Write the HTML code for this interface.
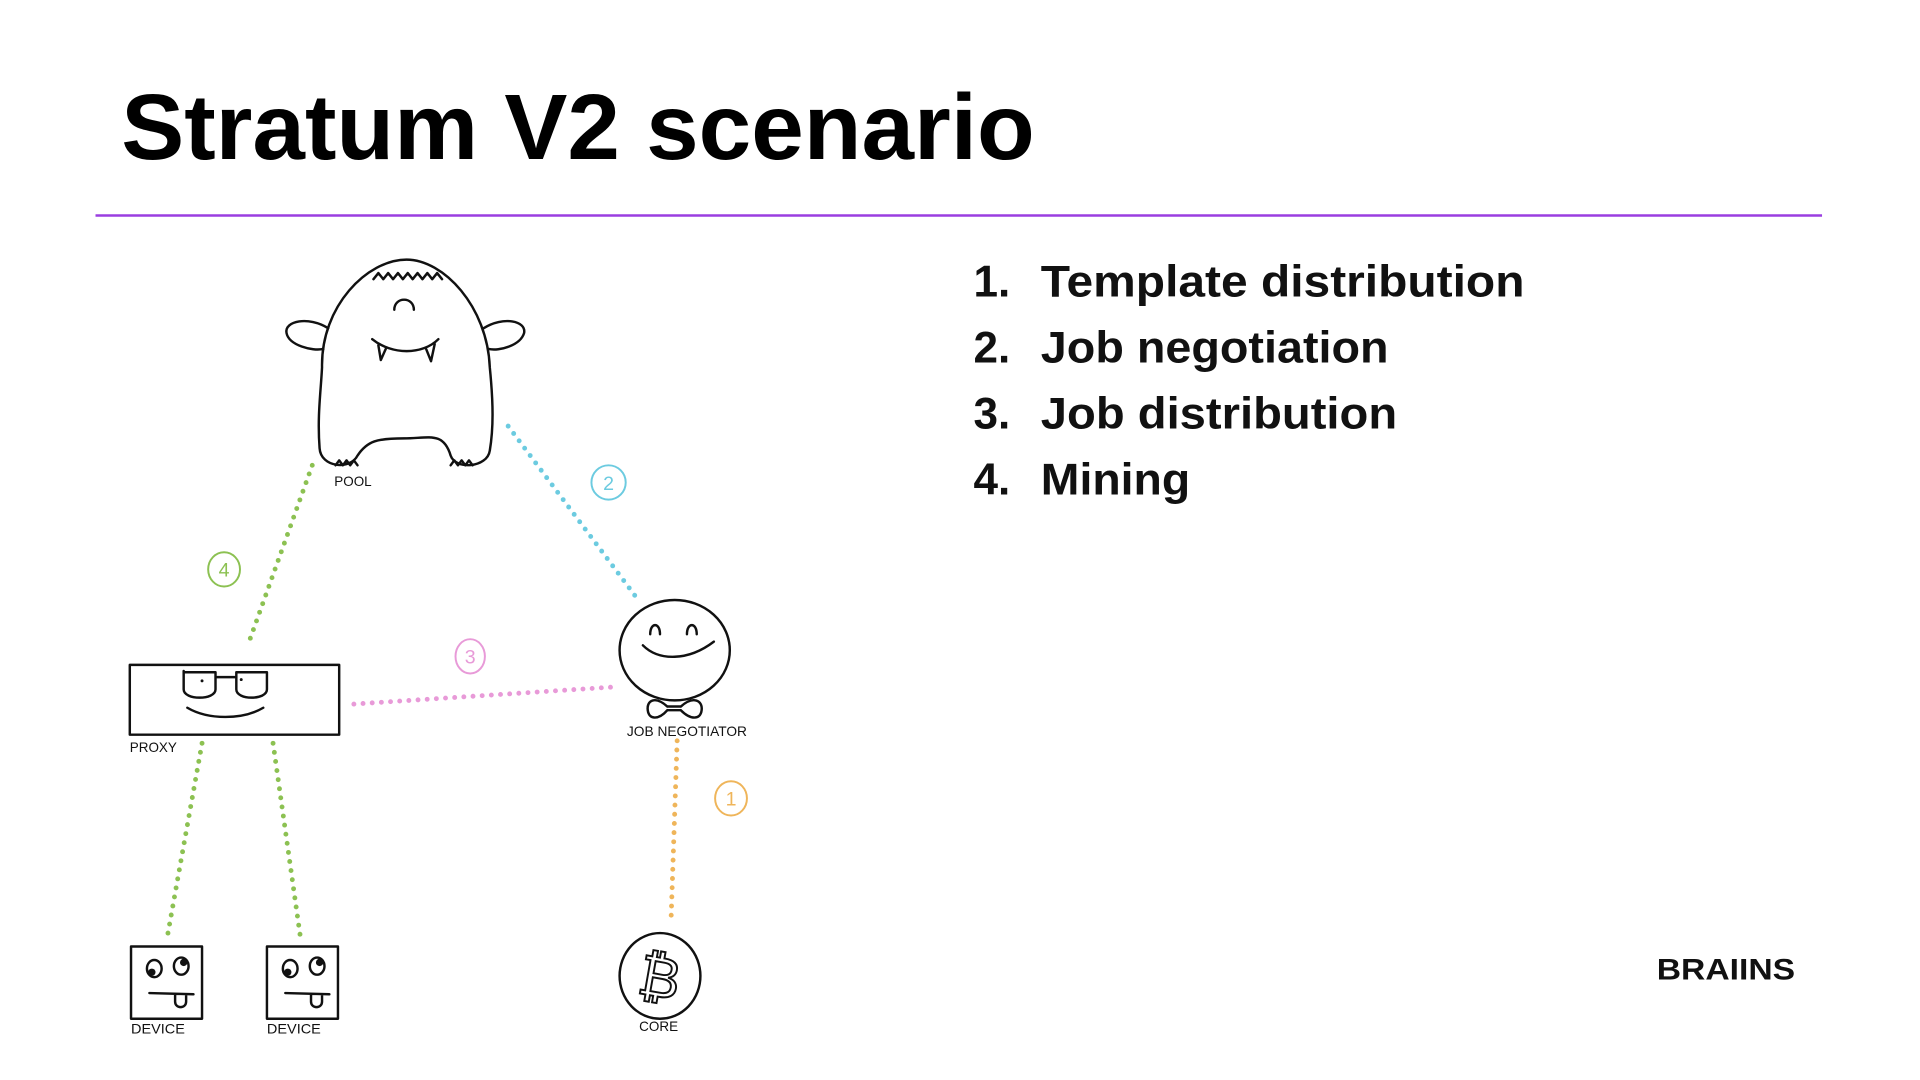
<!DOCTYPE html>
<html><head><meta charset="utf-8"><style>
html,body{margin:0;padding:0;background:#fff;}
svg{display:block;}
</style></head><body>
<svg width="1920" height="1080" viewBox="0 0 1568 882" xmlns="http://www.w3.org/2000/svg" font-family="Liberation Sans, sans-serif">
<rect width="1568" height="882" fill="#fff"/>
<text x="99" y="130" font-size="76" font-weight="bold" fill="#000" textLength="746" lengthAdjust="spacingAndGlyphs">Stratum V2 scenario</text>
<line x1="78" y1="176" x2="1488" y2="176" stroke="#9a3ee0" stroke-width="2"/>
<g font-size="36" font-weight="bold" fill="#111">
<text x="795" y="242">1.</text><text x="850" y="242" textLength="395" lengthAdjust="spacingAndGlyphs">Template distribution</text>
<text x="795" y="296">2.</text><text x="850" y="296" textLength="284" lengthAdjust="spacingAndGlyphs">Job negotiation</text>
<text x="795" y="350">3.</text><text x="850" y="350" textLength="291" lengthAdjust="spacingAndGlyphs">Job distribution</text>
<text x="795" y="404">4.</text><text x="850" y="404" textLength="122" lengthAdjust="spacingAndGlyphs">Mining</text>
</g>
<text x="1353" y="800" font-size="24" font-weight="bold" fill="#111" textLength="113" lengthAdjust="spacingAndGlyphs">BRAIINS</text>

<g fill="none" stroke-linecap="round" stroke-width="4" stroke-dasharray="0 7.5">
<line x1="255" y1="380" x2="202" y2="528" stroke="#8cc152"/>
<line x1="415" y1="348" x2="519" y2="487" stroke="#6ccbe0"/>
<line x1="289" y1="575" x2="502" y2="561" stroke="#e89ad8"/>
<line x1="553" y1="605" x2="548" y2="752" stroke="#efb55a"/>
<line x1="165" y1="607" x2="137" y2="763" stroke="#8cc152"/>
<line x1="223" y1="607" x2="245" y2="763" stroke="#8cc152"/>
</g>
<g fill="none" stroke-width="1.6">
<ellipse cx="183" cy="465" rx="13" ry="14" stroke="#8cc152"/>
<ellipse cx="497" cy="394" rx="14" ry="14" stroke="#6ccbe0"/>
<ellipse cx="384" cy="536" rx="12" ry="14" stroke="#e89ad8"/>
<ellipse cx="597" cy="652" rx="13" ry="14" stroke="#efb55a"/>
</g>
<g font-size="16" text-anchor="middle">
<text x="183" y="471" fill="#8cc152">4</text>
<text x="497" y="400" fill="#6ccbe0">2</text>
<text x="384" y="542" fill="#e89ad8">3</text>
<text x="597" y="658" fill="#efb55a">1</text>
</g>

<g fill="none" stroke="#111" stroke-width="2" stroke-linecap="round" stroke-linejoin="round">
<path d="M263,300 C262,250 300,212 332,212 C362,212 398,250 400,300 C403,330 403,350 400,368 C398,382 372,384 368,372 C362,352 350,358 330,358 C308,358 300,360 292,372 C286,384 262,382 261,366 C259,340 262,320 263,300 Z" fill="#fff"/>
<path d="M268,268 C252,258 232,262 234,272 C236,282 255,287 264,285"/>
<path d="M395,268 C411,258 430,262 428,272 C425,282 408,287 399,285"/>
<path d="M305,228 l4,-5 l4,5 l4,-5 l4,5 l4,-5 l4,5 l4,-5 l4,5 l4,-5 l4,5 l4,-5 l4,5 l4,-5 l4,5"/>
<path d="M322,253 C322,242 338,242 338,253"/>
<path d="M304,277 C320,290 345,290 358,277"/>
<path d="M309,282 L311,294 L315,285"/>
<path d="M348,285 L352,295 L355,281"/>
<path d="M274,380 l3,-4 l3,4 l3,-4 l3,4 l3,-4 l3,4"/>
<path d="M368,380 l3,-4 l3,4 l3,-4 l3,4 l3,-4 l3,4"/>
<rect x="106" y="543" width="171" height="57"/>
<path d="M150,548 L150,563 C150,572 176,572 176,563 L176,549 L150,549 M176,553 L193,553 M193,549 L218,549 L218,563 C218,572 193,572 193,563 Z"/>
<path d="M153,578 C170,588 198,588 215,578"/>
<ellipse cx="551" cy="531" rx="45" ry="41" fill="#fff"/>
<path d="M531,518 C531,508 539,508 539,518 M561,518 C561,508 569,508 569,518"/>
<path d="M525,527 C538,540 562,540 583,524"/>
<path d="M545,577 C535,568 528,572 529,580 C530,588 538,588 545,580 M556,577 C566,568 574,572 573,580 C572,588 564,588 556,580 M545,577 L556,577 M545,580 L556,580"/>
<rect x="107" y="773" width="58" height="59"/>
<rect x="218" y="773" width="58" height="59"/>
<ellipse cx="126" cy="791" rx="6" ry="7"/><ellipse cx="148" cy="789" rx="6" ry="7"/>
<ellipse cx="237" cy="791" rx="6" ry="7"/><ellipse cx="259" cy="789" rx="6" ry="7"/>
<path d="M122,811 L158,812 M143,812 L143,818 C143,824 152,824 152,818 L152,812"/>
<path d="M233,811 L269,812 M254,812 L254,818 C254,824 263,824 263,818 L263,812"/>
<ellipse cx="539" cy="797" rx="33" ry="35"/>
</g>
<g fill="#111">
<circle cx="124" cy="794" r="3"/><circle cx="150" cy="786" r="3"/>
<circle cx="235" cy="794" r="3"/><circle cx="261" cy="786" r="3"/>
<circle cx="165" cy="556" r="1.2"/><circle cx="197" cy="555" r="1.2"/>
</g>
<text x="539" y="814" font-size="46" text-anchor="middle" fill="none" stroke="#111" stroke-width="1.6" transform="rotate(10 539 797)">₿</text>
<g font-size="11" fill="#111">
<text x="273" y="397">POOL</text>
<text x="106" y="614">PROXY</text>
<text x="512" y="601" textLength="98" lengthAdjust="spacingAndGlyphs">JOB NEGOTIATOR</text>
<text x="107" y="844" textLength="44" lengthAdjust="spacingAndGlyphs">DEVICE</text>
<text x="218" y="844" textLength="44" lengthAdjust="spacingAndGlyphs">DEVICE</text>
<text x="522" y="842">CORE</text>
</g>
</svg>
</body></html>
